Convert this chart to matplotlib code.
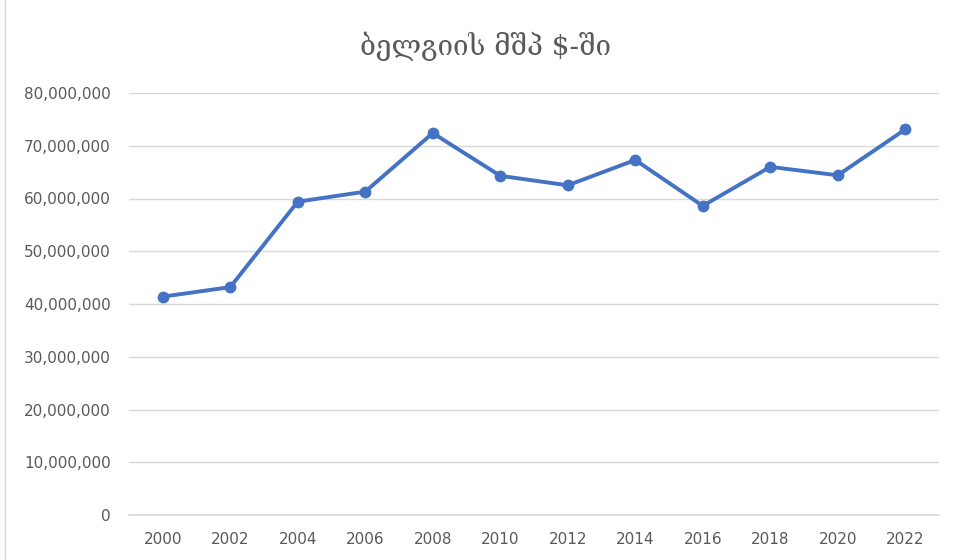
import matplotlib
matplotlib.use("Agg")
import matplotlib.pyplot as plt
from matplotlib.ticker import FuncFormatter

# Belgium GDP
years = ["2000", "2002", "2004", "2006", "2008", "2010",
         "2012", "2014", "2016", "2018", "2020", "2022"]
gdp = [41.4e6, 43.2e6, 59.4e6, 61.3e6, 72.4e6, 64.3e6,
       62.5e6, 67.3e6, 58.6e6, 66.0e6, 64.4e6, 73.1e6]
title = "ბელგიის მშპ $-ში"

plt.rcParams['font.family'] = ['DejaVu Sans']

fig = plt.figure(figsize=(9.54, 5.6), dpi=100)
ax = fig.add_axes([129 / 954, 1 - 515 / 560, 810 / 954, 422 / 560])

xlocs = list(range(len(years)))
ax.plot(xlocs, gdp, "-o", color="#4472C4", linewidth=2.8,
        markersize=7.5, zorder=3)

ax.set_xlim(-0.5, len(years) - 0.5)
ax.set_ylim(0, 80e6)
ax.set_yticks([i * 10e6 for i in range(9)])
ax.set_xticks(xlocs)
ax.set_xticklabels(years)
ax.yaxis.set_major_formatter(FuncFormatter(lambda v, p: f"{int(v):,}"))

ax.grid(axis="y", color="#D9D9D9", linewidth=1.0)
ax.axhline(0, color="#D9D9D9", linewidth=1.2, clip_on=False, zorder=1)
ax.set_axisbelow(True)
for s in ax.spines.values():
    s.set_visible(False)
ax.tick_params(axis="both", length=0, labelsize=11, labelcolor="#595959")
ax.tick_params(axis="y", pad=13)
ax.tick_params(axis="x", pad=12)

fig.text(486 / 954, 1 - 46 / 560, title, ha="center", va="center",
         fontsize=20, color="#595959", family=["DejaVu Serif", "DejaVu Sans"])

# chart border on the left
fig.add_artist(plt.Line2D([5 / 954, 5 / 954], [0, 1], color="#D9D9D9",
                          linewidth=1.0, transform=fig.transFigure))

fig.savefig("out.png", dpi=100)
